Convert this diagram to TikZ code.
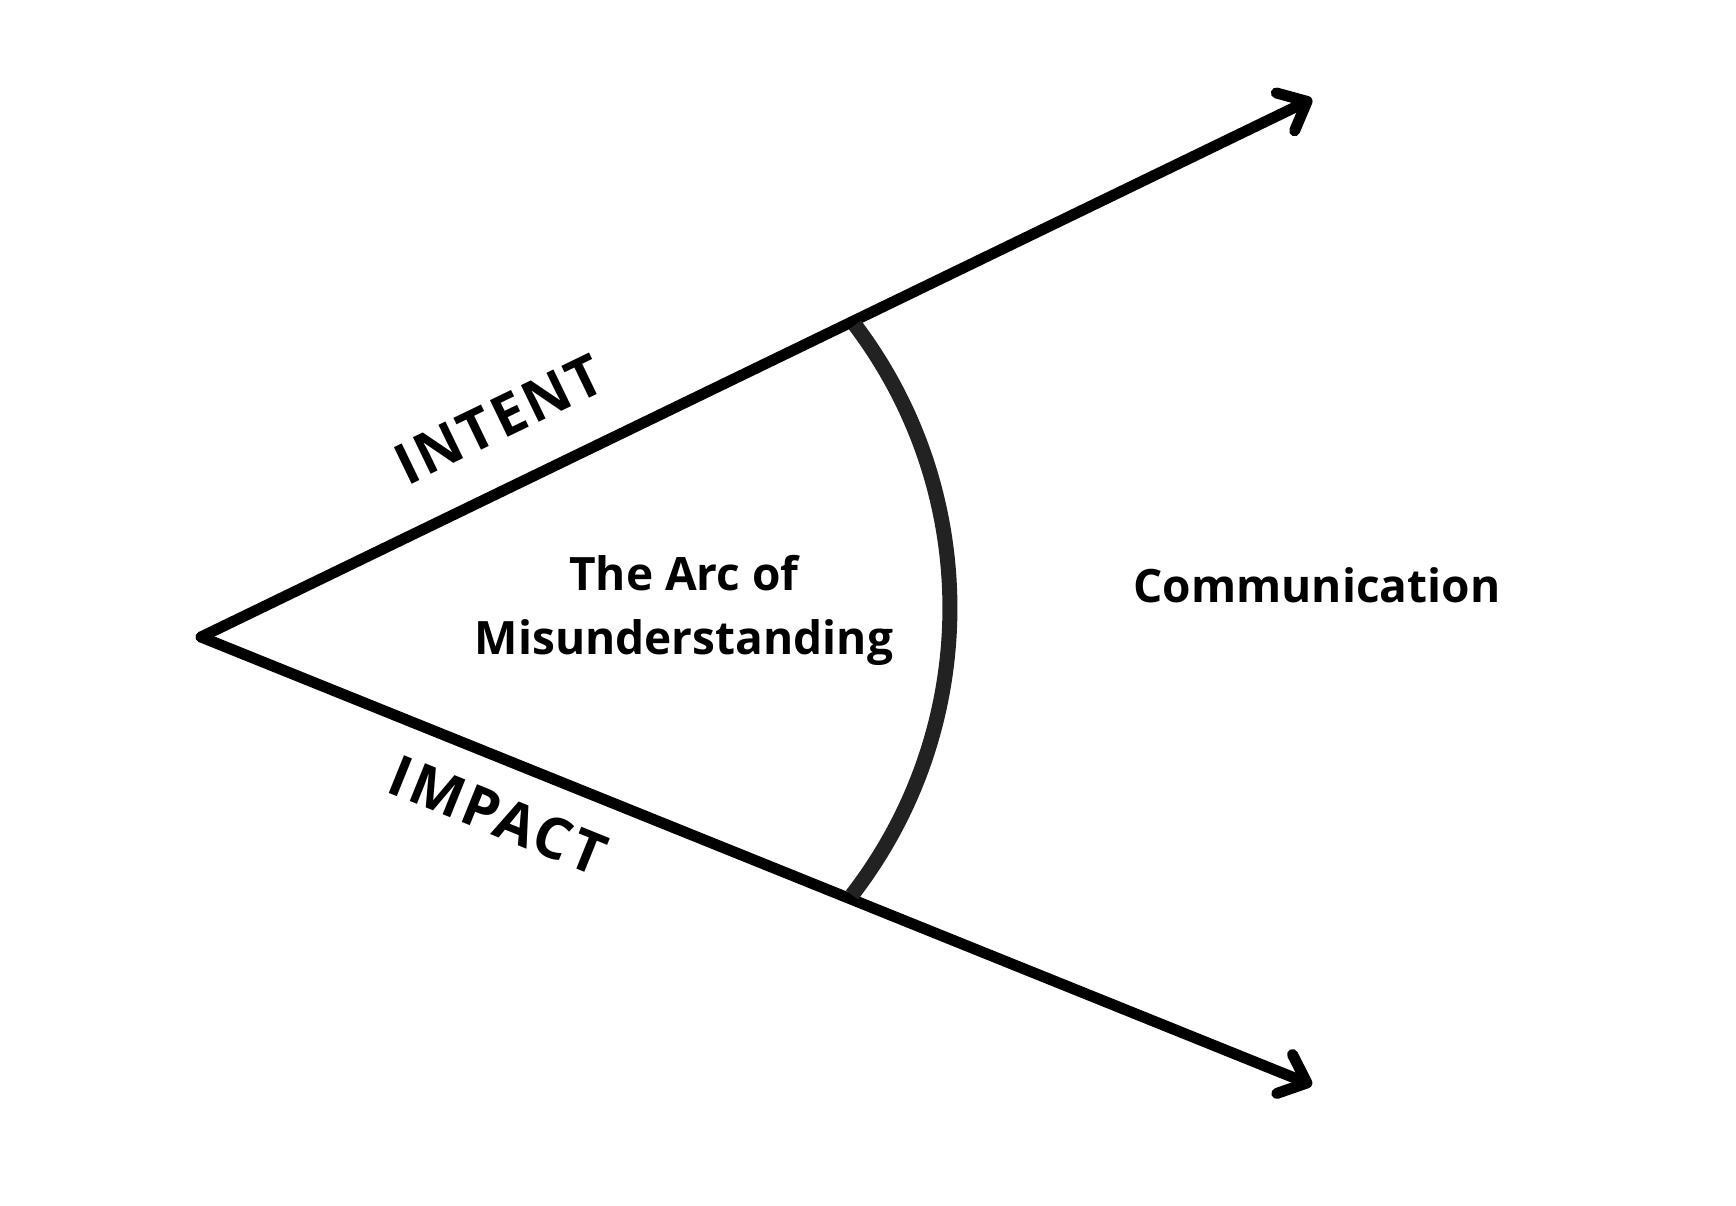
\documentclass[tikz,border=0pt]{standalone}
\usepackage{fontspec}
\setmainfont{Open Sans}
\newfontfamily\spacedfont[LetterSpace=5]{Open Sans}
\usetikzlibrary{arrows.meta}
\definecolor{arcgray}{HTML}{222222}
\begin{document}
\begin{tikzpicture}[x=1pt,y=-1pt,
  ray/.style={line width=11pt, line cap=round,
    -{Straight Barb[length=24pt,width=42pt,line join=round,line cap=round]}},
  arcline/.style={line width=15pt, draw=arcgray},
  axislbl/.style={font=\spacedfont\fontsize{57}{64}\selectfont\bfseries, inner sep=0pt},
  midlbl/.style={font=\fontsize{46}{64}\selectfont\bfseries, inner sep=0pt, align=center}]
\useasboundingbox (0,0) rectangle (1736,1206);
\fill[white] (0,0) rectangle (1736,1206);
\coordinate (apex) at (201,637);
\coordinate (tipU) at (1312,99);
\coordinate (tipL) at (1312,1085);
\coordinate (arcTop) at (855,325);
\coordinate (arcBot) at (852,895);
\draw[ray] (apex) -- (tipU);
\draw[ray] (apex) -- (tipL);
\draw[arcline] (arcTop) .. controls (982.7,494) and (981.4,727.5) .. (arcBot);
\node[axislbl, rotate=25.8] (intent) at (499,419) {INTENT};
\node[axislbl, rotate=-22] (impact) at (498,815) {IMPACT};
\node[midlbl] (arcmis) at (684,610) {The Arc of\\Misunderstanding};
\node[midlbl] (comm) at (1317,585) {Communication};
\end{tikzpicture}
\end{document}
